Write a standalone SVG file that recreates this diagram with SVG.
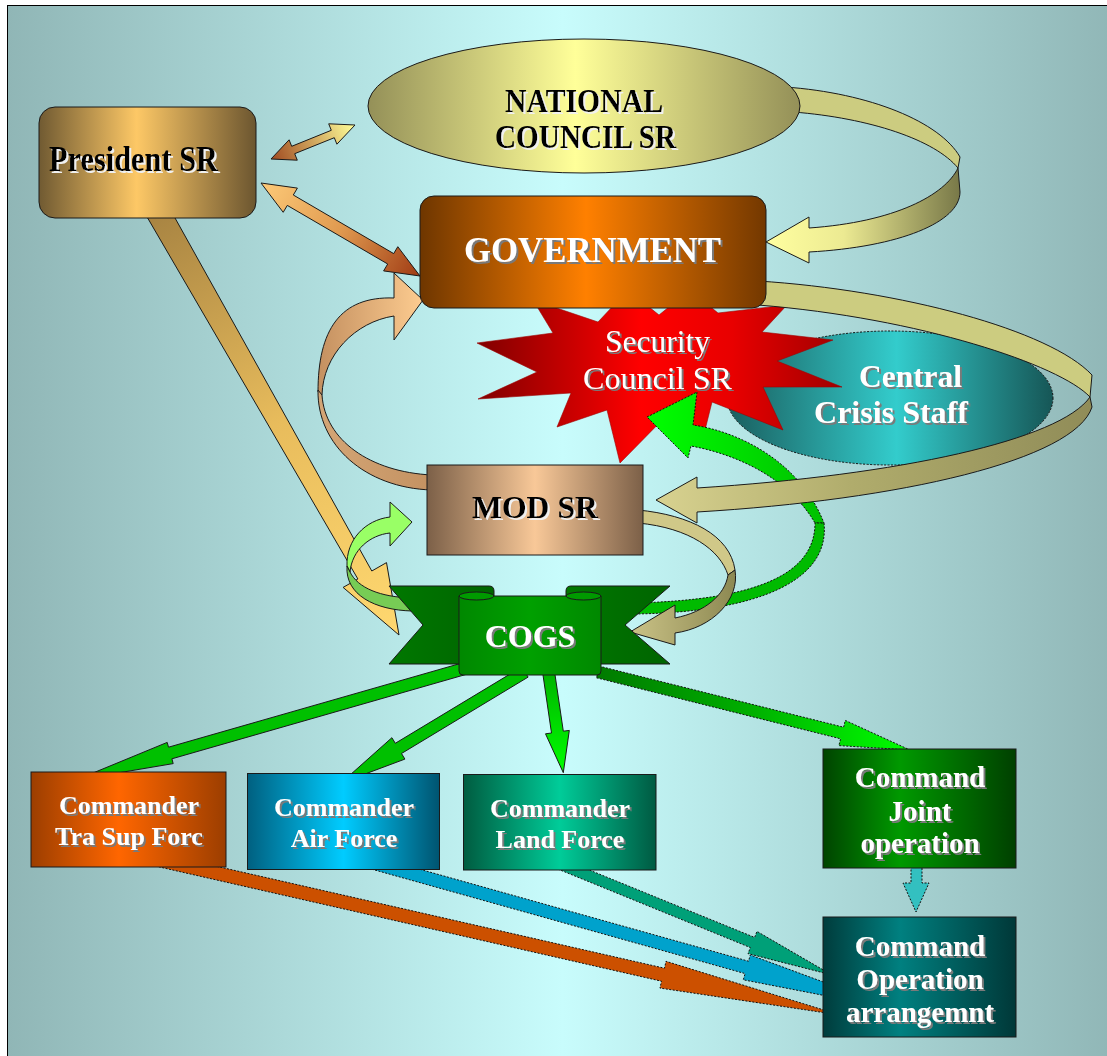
<svg xmlns="http://www.w3.org/2000/svg" width="1107" height="1056" viewBox="0 0 1107 1056">
<defs>
<style>
.t{font-family:"Liberation Serif","Times New Roman",serif;font-weight:bold;text-anchor:middle}
.n{font-weight:normal}
.w{fill:#ffffff;filter:url(#tw)}
.k{fill:#000000;filter:url(#tb)}
.ol{stroke:#1a1a1a;stroke-width:1}
.dot{stroke:#111111;stroke-width:1;stroke-dasharray:2 1.5}
</style>
<filter id="tw" x="-5%" y="-15%" width="115%" height="140%">
<feOffset in="SourceAlpha" dx="2" dy="2" result="o"/><feFlood flood-color="#7a7a7a"/><feComposite in2="o" operator="in"/>
<feMerge><feMergeNode/><feMergeNode in="SourceGraphic"/></feMerge>
</filter>
<filter id="tb" x="-5%" y="-15%" width="115%" height="140%">
<feOffset in="SourceAlpha" dx="1.5" dy="1.5" result="o"/><feFlood flood-color="#f0f0f0"/><feComposite in2="o" operator="in"/>
<feMerge><feMergeNode/><feMergeNode in="SourceGraphic"/></feMerge>
</filter>
<linearGradient id="bg"><stop offset="0" stop-color="#90b6b6"/><stop offset="0.5" stop-color="#c8fcfc"/><stop offset="1" stop-color="#90b6b6"/></linearGradient>
<linearGradient id="gPres"><stop offset="0" stop-color="#705a32"/><stop offset="0.45" stop-color="#fdc866"/><stop offset="1" stop-color="#6c5630"/></linearGradient>
<linearGradient id="gNat"><stop offset="0" stop-color="#949058"/><stop offset="0.48" stop-color="#ffff99"/><stop offset="1" stop-color="#949058"/></linearGradient>
<linearGradient id="gGov"><stop offset="0" stop-color="#6e3600"/><stop offset="0.48" stop-color="#ff8000"/><stop offset="1" stop-color="#733800"/></linearGradient>
<linearGradient id="gSec" gradientUnits="userSpaceOnUse" x1="477" y1="0" x2="842" y2="0"><stop offset="0" stop-color="#800000"/><stop offset="0.45" stop-color="#ff0000"/><stop offset="0.7" stop-color="#e80000"/><stop offset="1" stop-color="#a00000"/></linearGradient>
<linearGradient id="gCC"><stop offset="0" stop-color="#1a5e5e"/><stop offset="0.52" stop-color="#33cccc"/><stop offset="1" stop-color="#165656"/></linearGradient>
<linearGradient id="gMod"><stop offset="0" stop-color="#7c6048"/><stop offset="0.5" stop-color="#f8c898"/><stop offset="1" stop-color="#7c6048"/></linearGradient>
<linearGradient id="gCB"><stop offset="0" stop-color="#007800"/><stop offset="1" stop-color="#006400"/></linearGradient>
<linearGradient id="gCF"><stop offset="0" stop-color="#008800"/><stop offset="0.5" stop-color="#00a000"/><stop offset="1" stop-color="#008800"/></linearGradient>
<linearGradient id="gTra"><stop offset="0" stop-color="#9c3e00"/><stop offset="0.45" stop-color="#ff6600"/><stop offset="1" stop-color="#9c3e00"/></linearGradient>
<linearGradient id="gAir"><stop offset="0" stop-color="#006080"/><stop offset="0.5" stop-color="#00ccff"/><stop offset="1" stop-color="#005470"/></linearGradient>
<linearGradient id="gLand"><stop offset="0" stop-color="#005c40"/><stop offset="0.5" stop-color="#00cc99"/><stop offset="1" stop-color="#005a42"/></linearGradient>
<linearGradient id="gJoint"><stop offset="0" stop-color="#004400"/><stop offset="0.4" stop-color="#009900"/><stop offset="1" stop-color="#004000"/></linearGradient>
<linearGradient id="gOp"><stop offset="0" stop-color="#003c3c"/><stop offset="0.4" stop-color="#008080"/><stop offset="1" stop-color="#003838"/></linearGradient>
<linearGradient id="gNG" gradientUnits="userSpaceOnUse" x1="766" y1="0" x2="960" y2="0"><stop offset="0" stop-color="#ffffa0"/><stop offset="0.4" stop-color="#ecea92"/><stop offset="1" stop-color="#787848"/></linearGradient>
<linearGradient id="gGM" gradientUnits="userSpaceOnUse" x1="656" y1="0" x2="1092" y2="0"><stop offset="0" stop-color="#d8d290"/><stop offset="0.45" stop-color="#b0ac6c"/><stop offset="1" stop-color="#908c58"/></linearGradient>
<linearGradient id="gMG1" gradientUnits="userSpaceOnUse" x1="318" y1="0" x2="423" y2="0"><stop offset="0" stop-color="#c49060"/><stop offset="1" stop-color="#fdcc90"/></linearGradient>
<linearGradient id="gMG2" gradientUnits="userSpaceOnUse" x1="318" y1="0" x2="430" y2="0"><stop offset="0" stop-color="#d4a676"/><stop offset="1" stop-color="#c49262"/></linearGradient>
<linearGradient id="gMC" gradientUnits="userSpaceOnUse" x1="627" y1="0" x2="740" y2="0"><stop offset="0" stop-color="#ccc488"/><stop offset="1" stop-color="#8a8650"/></linearGradient>
<linearGradient id="gCS" gradientUnits="userSpaceOnUse" x1="647" y1="0" x2="824" y2="0"><stop offset="0" stop-color="#00ff00"/><stop offset="1" stop-color="#00c000"/></linearGradient>
<linearGradient id="gPC" gradientUnits="userSpaceOnUse" x1="158" y1="212" x2="399" y2="635"><stop offset="0" stop-color="#a88442"/><stop offset="0.5" stop-color="#e8bc5c"/><stop offset="1" stop-color="#ffd870"/></linearGradient>
<linearGradient id="gPN" gradientUnits="userSpaceOnUse" x1="271" y1="159" x2="355" y2="125"><stop offset="0" stop-color="#a04a20"/><stop offset="1" stop-color="#ffff99"/></linearGradient>
<linearGradient id="gPG" gradientUnits="userSpaceOnUse" x1="261" y1="183" x2="420" y2="276"><stop offset="0" stop-color="#fdca78"/><stop offset="0.5" stop-color="#e09a50"/><stop offset="1" stop-color="#a03c14"/></linearGradient>
<linearGradient id="gCL" gradientUnits="userSpaceOnUse" x1="0" y1="668" x2="0" y2="772"><stop offset="0" stop-color="#00b000"/><stop offset="1" stop-color="#00ff00"/></linearGradient>
<linearGradient id="gCJ" gradientUnits="userSpaceOnUse" x1="596" y1="0" x2="910" y2="0"><stop offset="0" stop-color="#007a00"/><stop offset="0.5" stop-color="#00b000"/><stop offset="1" stop-color="#00ff00"/></linearGradient>
</defs>

<rect x="0" y="0" width="1107" height="1056" fill="#ffffff"/>
<rect x="7.5" y="5.5" width="1110" height="1060" fill="url(#bg)" stroke="#000" stroke-width="1"/>

<g id="n-central">
<ellipse cx="890" cy="398" rx="163" ry="67" fill="url(#gCC)" class="dot"/>
<text class="t w" x="910.5" y="387" font-size="31" textLength="103" lengthAdjust="spacingAndGlyphs">Central</text>
<text class="t w" x="891" y="423" font-size="31" textLength="154" lengthAdjust="spacingAndGlyphs">Crisis Staff</text>
</g>

<g id="n-security">
<polygon points="533,300 598,322 628,290 659,315 690,290 718,313 787,305 762,332 833,340 777,361 842,387 763,387 783,430 712,402 701,446 672,410 620,463 607,410 557,427 571,393 478,399 537,372 477,343 553,333" fill="url(#gSec)" stroke="#a00000" stroke-width="0.6"/>
<text class="t n w" x="657.5" y="352" font-size="32" textLength="105" lengthAdjust="spacingAndGlyphs">Security</text>
<text class="t n w" x="657.5" y="389" font-size="32" textLength="149" lengthAdjust="spacingAndGlyphs">Council SR</text>
</g>

<g id="connectors">
<g id="c-cogs-security">
<path d="M647,417 L697,392 L693,425 C740,432 800,462 824,523 L815,523 C790,480 740,455 691,446 L688,458 Z" fill="url(#gCS)" class="dot"/>
<path d="M824,523 C830,580 760,612 635,614 L635,603 C755,600 815,575 815,523 Z" fill="#00bb00" class="dot"/>
</g>
<g id="c-gov-mod">
<path d="M758,281 C900,290 1050,330 1092,375 L1090,397 C1060,365 920,318 758,305 Z" fill="#cccc80" class="ol"/>
<path d="M1090,397 C1060,440 900,475 697,488 L697,477 L656,500 L697,523 L697,512 C900,500 1075,460 1092,407 Z" fill="url(#gGM)" class="ol"/>
</g>
<g id="c-nat-gov">
<path d="M785,87 C870,93 940,122 960,157 L958,168 C935,140 870,118 793,112 Z" fill="#cccc80" class="ol"/>
<path d="M958,168 C945,195 895,222 809,228 L809,217 L766,242 L809,263 L809,252 C900,247 960,222 960,192 Z" fill="url(#gNG)" class="ol"/>
</g>
<g id="c-mod-gov">
<path d="M318,392 C318,330 340,296 394,298 L394,273 L423,300 L394,340 L394,316 C355,322 323,355 322,395 Z" fill="url(#gMG1)" class="ol"/>
<path d="M318,390 C317,445 365,488 432,490 L432,475 C370,472 325,440 322,395 Z" fill="url(#gMG2)" class="ol"/>
</g>
<g id="c-mod-cogs-right">
<path d="M638,510 C690,515 730,535 735,570 L728,575 C720,550 690,528 638,523 Z" fill="#d0c888" class="ol"/>
<path d="M735,570 C740,600 712,628 675,633 L675,645 L630,632 L675,605 L675,618 C705,612 725,595 728,575 Z" fill="url(#gMC)" class="ol"/>
</g>
<polygon id="c-pres-cogs" points="147.6,217.9 357.9,579 343.1,587.4 399,635 386.5,562.6 371.8,571 168.4,206.1" fill="url(#gPC)" class="ol"/>
<g id="c-mod-cogs-left">
<path d="M347,566 C346,540 365,520 390,517 L390,502 L412,522 L390,546 L390,533 C370,535 352,550 350,572 Z" fill="#99ff66" class="ol"/>
<path d="M347,566 C345,595 375,610 412,611 L412,598 C380,597 358,588 350,572 Z" fill="#77cc55" class="ol"/>
</g>
<polygon id="c-pres-nat" points="271,159 297.3,160.2 294.7,153.7 334.3,137.7 336.9,144.2 355,125 328.7,123.8 331.3,130.3 291.7,146.3 289.1,139.8" fill="url(#gPN)" class="ol"/>
<polygon id="c-pres-gov" points="261,183 283.2,212.3 287.3,205.4 387.7,264 383.6,270.9 420,276 397.8,246.7 393.7,253.6 293.3,195 297.4,188.1" fill="url(#gPG)" class="ol"/>
<polygon id="c-cogs-tra" points="468.3,661.2 168.5,747.2 167.2,742.4 76,780 173.2,763.6 171.9,758.8 471.7,672.8" fill="#00c000" class="ol"/>
<polygon id="c-cogs-air" points="521.9,666.9 395.3,743.3 391.9,737.7 341,783 404.9,759.1 401.5,753.5 528.1,677.1" fill="#00c000" class="ol"/>
<polygon id="c-cogs-land" points="542.1,668.9 551.5,733 545.5,733.8 563.3,772.7 569.3,730.4 563.3,731.2 553.9,667.1" fill="url(#gCL)" class="ol"/>
<polygon id="c-cogs-joint" points="596.5,677.8 840.6,738.8 838.9,745.6 910,750 845.3,720.4 843.6,727.2 599.5,666.2" fill="url(#gCJ)" class="dot"/>
<polygon id="c-land-op" points="557.9,869.1 750.4,947.6 748,953.6 832,975 757,931.4 754.6,937.4 562.1,858.9" fill="#00a078" class="dot"/>
<polygon id="c-air-op" points="368.3,868.2 745.1,973.6 743.3,979.8 899,1010 750.3,955 748.5,961.2 371.7,855.8" fill="#00a2cc" class="dot"/>
<polygon id="c-tra-op" points="148.5,864.5 661.5,981.2 660,988.1 840,1015 666,961.3 664.5,968.2 151.5,851.5" fill="#cc5000" class="dot"/>
<polygon id="c-joint-op" points="911,866 911,883 903,883 916,912 929,883 922,883 922,866" fill="#33c0c0" class="dot"/>
</g>

<g id="n-president">
<rect x="39" y="107" width="217" height="111" rx="16" fill="url(#gPres)" class="ol"/>
<text class="t k" x="133.5" y="171" font-size="36" textLength="169" lengthAdjust="spacingAndGlyphs">President SR</text>
</g>

<g id="n-national">
<ellipse cx="584" cy="106" rx="216" ry="67" fill="url(#gNat)" class="ol"/>
<text class="t k" x="584" y="112" font-size="33" textLength="158" lengthAdjust="spacingAndGlyphs">NATIONAL</text>
<text class="t k" x="585.5" y="148" font-size="33" textLength="181" lengthAdjust="spacingAndGlyphs">COUNCIL SR</text>
</g>

<g id="n-government">
<rect x="420" y="196" width="346" height="112" rx="14" fill="url(#gGov)" class="ol"/>
<text class="t w" x="592.5" y="262" font-size="36" textLength="257" lengthAdjust="spacingAndGlyphs">GOVERNMENT</text>
</g>

<g id="n-mod">
<rect x="427" y="465" width="216" height="90" fill="url(#gMod)" class="ol"/>
<text class="t k" x="535" y="518" font-size="32" textLength="126" lengthAdjust="spacingAndGlyphs">MOD SR</text>
</g>

<g id="n-cogs">
<path d="M389,586 L489,586 Q494,586 494,591 L494,664 L389,664 L423,625 Z" fill="url(#gCB)" class="ol"/>
<path d="M670,586 L571,586 Q566,586 566,591 L566,664 L670,664 L625,625 Z" fill="url(#gCB)" class="ol"/>
<path d="M459,596 L601,596 L601,671 Q601,675 597,675 L463,675 Q459,675 459,671 Z" fill="url(#gCF)" class="ol"/>
<ellipse cx="476.5" cy="596" rx="17.5" ry="4" fill="#009a00" class="ol"/>
<ellipse cx="583.5" cy="596" rx="17.5" ry="4" fill="#009a00" class="ol"/>
<text class="t w" x="530" y="647" font-size="32">COGS</text>
</g>

<g id="n-tra">
<rect x="31" y="772" width="195" height="95" fill="url(#gTra)" class="ol"/>
<text class="t w" x="129" y="814" font-size="26">Commander</text>
<text class="t w" x="129" y="845" font-size="26">Tra Sup Forc</text>
</g>

<g id="n-air">
<rect x="247.5" y="773.5" width="192" height="96" fill="url(#gAir)" class="ol"/>
<text class="t w" x="344" y="816" font-size="26">Commander</text>
<text class="t w" x="344" y="847" font-size="26">Air Force</text>
</g>

<g id="n-land">
<rect x="463.5" y="774.5" width="192.5" height="95.5" fill="url(#gLand)" class="ol"/>
<text class="t w" x="560" y="817" font-size="26">Commander</text>
<text class="t w" x="560" y="848" font-size="26">Land Force</text>
</g>

<g id="n-joint">
<rect x="823" y="749" width="193" height="119" fill="url(#gJoint)" class="ol"/>
<text class="t w" x="920" y="787" font-size="29">Command</text>
<text class="t w" x="920" y="821" font-size="29">Joint</text>
<text class="t w" x="920" y="853" font-size="29">operation</text>
</g>

<g id="n-oparr">
<rect x="823" y="917" width="193" height="120" fill="url(#gOp)" class="ol"/>
<text class="t w" x="920" y="956" font-size="29">Command</text>
<text class="t w" x="920" y="989" font-size="29">Operation</text>
<text class="t w" x="920" y="1022" font-size="29">arrangemnt</text>
</g>
</svg>
